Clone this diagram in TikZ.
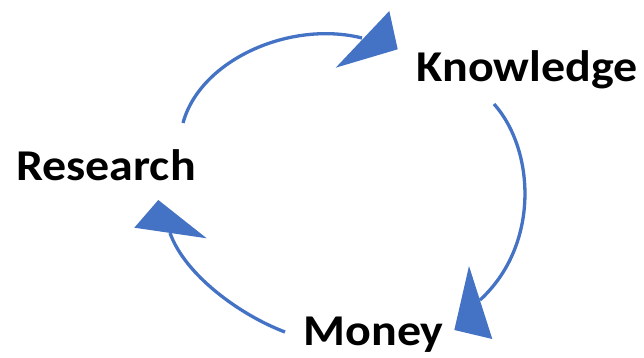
\documentclass[tikz,border=0pt]{standalone}
\usepackage{fontspec}
\setmainfont{Carlito}[FakeStretch=1.09]
\definecolor{arrowblue}{HTML}{4472C4}
\tikzset{
  lbl/.style={font=\bfseries\fontsize{44}{50}\selectfont, inner sep=0pt, anchor=base, text=black},
  conn/.style={draw=arrowblue, line width=3.3pt},
  headtri/.style={fill=arrowblue, draw=none}
}
\begin{document}
\begin{tikzpicture}[x=1pt,y=-1pt]
\useasboundingbox (0,0) rectangle (644,358);
\node[lbl] (knowledge) at (527,82) {Knowledge};
\node[lbl] (research) at (106,180) {Research};
\node[lbl] (money) at (373.5,345) {Money};
% connector end points
\coordinate (r1) at (183,123);
\coordinate (k1) at (362,38);
\coordinate (k2) at (494,104);
\coordinate (m2) at (480,300);
\coordinate (m3) at (285,332);
\coordinate (r3) at (170,233);
% curves
\draw[conn] (r1) .. controls (200,60) and (290,20) .. (k1);
\draw[conn] (k2) .. controls (535,150) and (540,245) .. (m2);
\draw[conn] (m3) .. controls (240,315) and (185,275) .. (r3);
% arrow heads
\fill[headtri] (389.3,11) -- (397.7,49.3) -- (335.7,67.7) -- cycle;
\fill[headtri] (469,266) -- (492.3,339) -- (454.3,330) -- cycle;
\fill[headtri] (158.3,200) -- (134.3,227.7) -- (206.7,238.3) -- cycle;
\end{tikzpicture}
\end{document}
